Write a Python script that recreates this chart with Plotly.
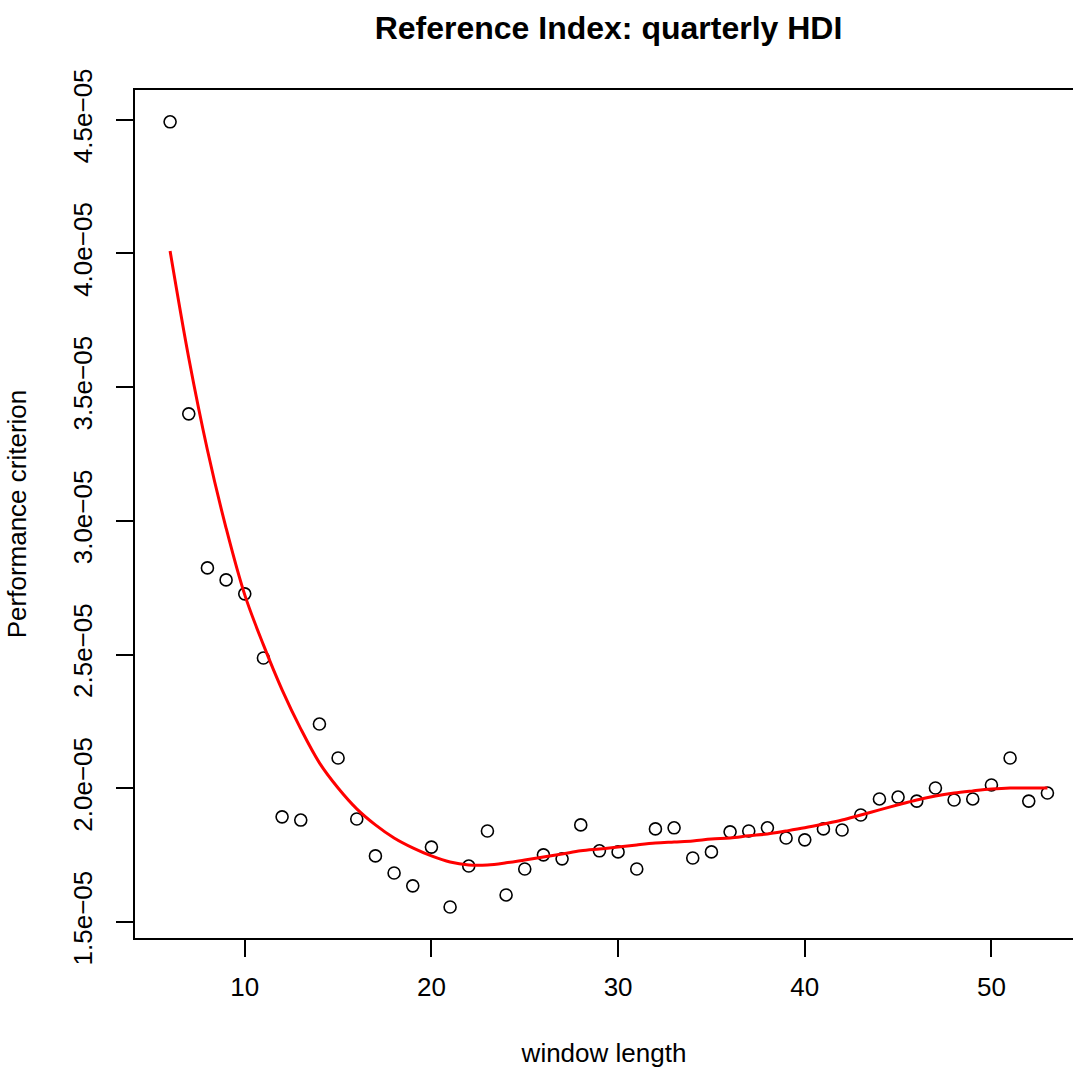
import plotly.graph_objects as go

# window lengths and observed criterion
window = list(range(6, 54))
criterion = [
    4.492e-05, 3.400e-05, 2.824e-05, 2.779e-05, 2.727e-05, 2.487e-05,
    1.893e-05, 1.881e-05, 2.240e-05, 2.113e-05, 1.885e-05, 1.747e-05,
    1.683e-05, 1.635e-05, 1.780e-05, 1.556e-05, 1.709e-05, 1.840e-05,
    1.601e-05, 1.698e-05, 1.751e-05, 1.736e-05, 1.863e-05, 1.766e-05,
    1.762e-05, 1.698e-05, 1.848e-05, 1.852e-05, 1.739e-05, 1.762e-05,
    1.837e-05, 1.840e-05, 1.852e-05, 1.814e-05, 1.807e-05, 1.848e-05,
    1.844e-05, 1.900e-05, 1.960e-05, 1.967e-05, 1.952e-05, 2.001e-05,
    1.956e-05, 1.960e-05, 2.012e-05, 2.113e-05, 1.952e-05, 1.982e-05,
]

# smoothed fit (red curve)
smooth = [
    4.009e-05, 3.609e-05, 3.265e-05, 2.973e-05, 2.723e-05, 2.536e-05,
    2.368e-05, 2.222e-05, 2.095e-05, 2.001e-05, 1.923e-05, 1.863e-05,
    1.814e-05, 1.777e-05, 1.747e-05, 1.724e-05, 1.713e-05, 1.713e-05,
    1.721e-05, 1.732e-05, 1.743e-05, 1.754e-05, 1.766e-05, 1.773e-05,
    1.780e-05, 1.788e-05, 1.795e-05, 1.799e-05, 1.803e-05, 1.810e-05,
    1.814e-05, 1.822e-05, 1.829e-05, 1.840e-05, 1.852e-05, 1.866e-05,
    1.881e-05, 1.900e-05, 1.919e-05, 1.938e-05, 1.956e-05, 1.971e-05,
    1.982e-05, 1.990e-05, 1.997e-05, 2.001e-05, 2.001e-05, 2.001e-05,
]

y_ticks = [1.5e-05, 2.0e-05, 2.5e-05, 3.0e-05, 3.5e-05, 4.0e-05, 4.5e-05]
y_labels = ["1.5e\u221205", "2.0e\u221205", "2.5e\u221205", "3.0e\u221205",
            "3.5e\u221205", "4.0e\u221205", "4.5e\u221205"]
x_ticks = [10, 20, 30, 40, 50]

font = "Liberation Sans, Arial, sans-serif"

fig = go.Figure()
fig.add_trace(go.Scatter(
    x=window, y=criterion, mode="markers",
    marker=dict(symbol="circle-open", size=12, color="black",
                line=dict(width=1.6, color="black")),
    showlegend=False))
fig.add_trace(go.Scatter(
    x=window, y=smooth, mode="lines",
    line=dict(color="#ff0000", width=3, shape="spline"),
    showlegend=False))

fig.update_layout(
    width=1073, height=1070,
    margin=dict(l=135, r=0, t=90, b=132),
    paper_bgcolor="white", plot_bgcolor="white",
    font=dict(family=font, size=26, color="black"),
    title=dict(text="<b>Reference Index: quarterly HDI</b>",
               x=(135 + 1082) / 2 / 1073, xanchor="center",
               y=1 - 28 / 1070, yanchor="middle",
               font=dict(size=32, family=font)),
)
fig.update_xaxes(
    range=[4.12, 54.37], tickvals=x_ticks,
    tickfont=dict(size=26),
    showgrid=False, zeroline=False,
    showline=True, mirror=True, linecolor="black", linewidth=1.5,
    ticks="outside", ticklen=17, tickwidth=1.5, tickcolor="black",
    ticklabelstandoff=8,
    title=dict(text="window length", standoff=43, font=dict(size=26)),
)
fig.update_yaxes(
    range=[1.44e-05, 4.611e-05], tickvals=y_ticks, ticktext=y_labels,
    tickangle=-90, tickfont=dict(size=26),
    showgrid=False, zeroline=False,
    showline=True, linecolor="black", linewidth=1.5,
    ticks="outside", ticklen=17, tickwidth=1.5, tickcolor="black",
    ticklabelstandoff=14,
    title=dict(text="Performance criterion", standoff=34, font=dict(size=26)),
)

fig.write_html("out.html", config={"displayModeBar": False},
               post_script="document.body.style.margin='0';")
